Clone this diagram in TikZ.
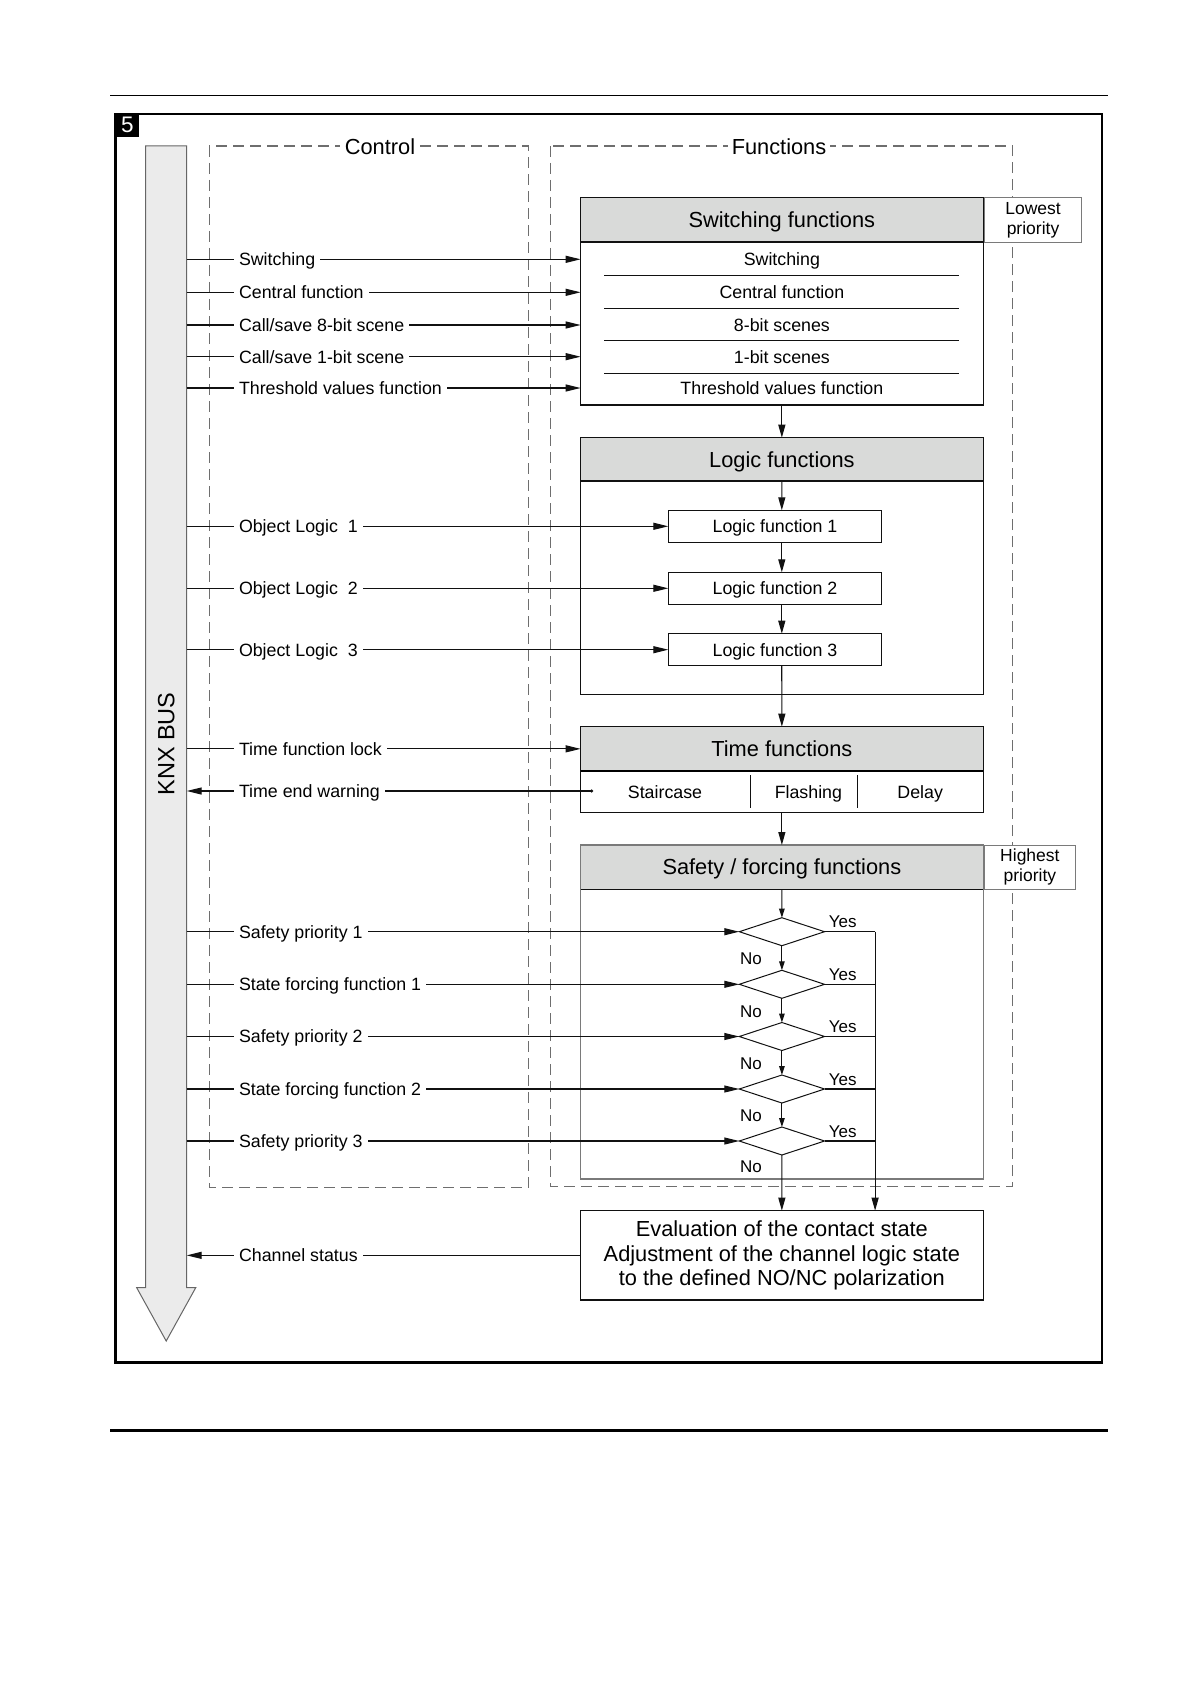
\documentclass[tikz,border=0pt]{standalone}
\usepackage{fontspec}
\setmainfont{Liberation Sans}
\usetikzlibrary{arrows.meta,shapes.geometric}
\definecolor{hdrgray}{HTML}{D9DAD9}
\definecolor{busgray}{HTML}{EBEBEB}
\definecolor{dashgray}{HTML}{6E6E6E}
\definecolor{boxgray}{HTML}{7A7A7A}
\definecolor{linec}{HTML}{111111}
\begin{document}
\begin{tikzpicture}[x=1pt,y=-1pt,line width=1.15pt,
  every node/.style={outer sep=0pt},
  fs/.style={font=\fontsize{17.8}{20}\selectfont, text height=12.7pt, text depth=0pt},
  fb/.style={font=\fontsize{21.8}{24.5}\selectfont, text height=15.6pt, text depth=0pt},
  lbl/.style={fs, fill=white, inner xsep=5pt, inner ysep=3pt, anchor=west},
  box/.style={draw=linec, minimum width=402.5pt, anchor=north west, inner sep=0pt},
  hdr/.style={draw=linec, fill=hdrgray, fb, minimum width=402.5pt, minimum height=44.3pt, anchor=north west, inner sep=0pt},
  item/.style={fs, minimum width=402.5pt, inner sep=0pt},
  lfbox/.style={draw=linec, fs, minimum width=213.4pt, minimum height=32pt, inner sep=0pt},
  arr/.style={draw=linec, -{Triangle[length=15pt,width=7pt]}},
  varr/.style={draw=linec, -{Triangle[length=13pt,width=7pt]}},
  sarr/.style={draw=linec, -{Triangle[length=9pt,width=5.5pt]}},
  dashbox/.style={draw=dashgray, line width=1.1pt, dash pattern=on 11pt off 6pt},
  dec/.style={draw=linec, diamond, line width=1pt, minimum width=85.3pt, minimum height=28pt, inner sep=0pt},
  prio/.style={draw=boxgray, fill=white, line width=1pt, font=\fontsize{17.5}{20}\selectfont, align=center, inner sep=0pt, anchor=north west},
  yn/.style={font=\fontsize{17}{20}\selectfont, text height=12.2pt, text depth=0pt, inner sep=0pt},
  sep/.style={draw=linec, line width=1pt}
]
\useasboundingbox (0,0) rectangle (1191,1685);
\fill[white] (0,0) rectangle (1191,1685);
% page rules
\draw[line width=1.5pt] (110,95.7) -- (1108,95.7);
\draw[line width=3pt] (110,1430.7) -- (1108,1430.7);
% frame
\node[draw=black, line width=2.5pt, minimum width=986.1pt, minimum height=1248.3pt, anchor=north west] (frame) at (115.7,114) {};
\node[fill=black, text=white, minimum width=23.3pt, minimum height=22.7pt, anchor=north west, inner sep=0pt, font=\fontsize{22.5}{22.5}\selectfont] (fig) at (115.7,114) {5};
% bus
\draw[draw=black!60, fill=busgray, line width=1pt] (145.7,146) -- (186.7,146) -- (186.7,1287.7) -- (195.7,1287.7) -- (166.2,1341) -- (136.7,1287.7) -- (145.7,1287.7) -- cycle;
\node[rotate=90, font=\fontsize{23.5}{23.5}\selectfont] (knx) at (166.2,744) {KNX BUS};
\coordinate (busE) at (186.7,744);
% dashed regions
\draw[dashbox] (209.3,146) rectangle (528.3,1187.3);
\draw[dashbox] (550.7,146) rectangle (1012.4,1186.7);
\node[fill=white, fb, inner xsep=5pt, inner ysep=1pt] (ctl) at (380,147) {Control};
\node[fill=white, fb, inner xsep=4pt, inner ysep=1pt] (fun) at (779,147) {Functions};
% switching functions
\node[box, minimum height=207.3pt] (swbox) at (580.6,197.7) {};
\node[hdr] (swh) at (580.6,197.7) {Switching functions};
\node[item] (s1) at (781.9,259.3) {Switching};
\node[item] (s2) at (781.9,292.3) {Central function};
\node[item] (s3) at (781.9,325) {8-bit scenes};
\node[item] (s4) at (781.9,356.7) {1-bit scenes};
\node[item] (s5) at (781.9,388) {Threshold values function};
\draw[sep] (604,275.3) -- (959,275.3);
\draw[sep] (604,308.3) -- (959,308.3);
\draw[sep] (604,340.3) -- (959,340.3);
\draw[sep] (604,373.3) -- (959,373.3);
\node[prio, minimum width=96.4pt, minimum height=44.6pt] (low) at (984.8,197.7) {Lowest\\priority};
% logic functions
\node[box, minimum height=256.6pt] (lgbox) at (580.6,437.7) {};
\node[hdr, minimum height=43.3pt] (lgh) at (580.6,437.7) {Logic functions};
\node[lfbox] (lf1) at (775,526.3) {Logic function 1};
\node[lfbox] (lf2) at (775,588.3) {Logic function 2};
\node[lfbox] (lf3) at (775,649.7) {Logic function 3};
% time functions
\node[box, minimum height=85.6pt] (tmbox) at (580.6,726.7) {};
\node[hdr, minimum height=44.3pt] (tmh) at (580.6,726.7) {Time functions};
\draw[line width=2.2pt] (tmh.south west) -- (tmh.south east);
\node[fs, inner sep=0pt] (stair) at (665,791.7) {Staircase};
\node[fs, inner sep=0pt] (flash) at (808.4,791.7) {Flashing};
\node[fs, inner sep=0pt] (delay) at (920.2,791.7) {Delay};
\draw[sep] (750.2,775) -- (750.2,807.7);
\draw[sep] (857.9,775) -- (857.9,807.7);
\coordinate (tew) at (591.6,791);
\fill[linec] (tew) circle (1.7pt);
% safety / forcing
\node[box, draw=boxgray, minimum height=334pt] (sfbox) at (580.6,845) {};
\node[hdr, draw=boxgray, minimum height=44.3pt] (sfh) at (580.6,845) {Safety / forcing functions};
\draw[linec] (sfh.south west) -- (sfh.south east);
\node[prio, minimum width=90.2pt, minimum height=44.3pt] (high) at (984.8,845) {Highest\\priority};
\node[dec] (d1) at (781.9,931.7) {};
\node[dec] (d2) at (781.9,984.3) {};
\node[dec] (d3) at (781.9,1036.5) {};
\node[dec] (d4) at (781.9,1089) {};
\node[dec] (d5) at (781.9,1141) {};
\node[yn] (y1) at (842.8,921.7) {Yes};
\node[yn] (y2) at (842.8,974.3) {Yes};
\node[yn] (y3) at (842.8,1026.5) {Yes};
\node[yn] (y4) at (842.8,1079) {Yes};
\node[yn] (y5) at (842.8,1131) {Yes};
\node[yn] (n1) at (751,958.3) {No};
\node[yn] (n2) at (751,1010.9) {No};
\node[yn] (n3) at (751,1063.1) {No};
\node[yn] (n4) at (751,1115.6) {No};
\node[yn] (n5) at (751,1166.5) {No};
% evaluation
\node[draw=linec, minimum width=402.5pt, minimum height=89.3pt, anchor=north west, align=center, font=\fontsize{21.8}{24.5}\selectfont, inner sep=0pt] (eval) at (580.6,1210.7) {Evaluation of the contact state\\Adjustment of the channel logic state\\to the defined NO/NC polarization};
% vertical flow
\coordinate (ax) at (781.8,0);
\draw[varr] (swbox.south) -- (lgh.north);
\draw[varr] (lgh.south) -- (lf1.north -| ax);
\draw[varr] (lf1.south -| ax) -- (lf2.north -| ax);
\draw[varr] (lf2.south -| ax) -- (lf3.north -| ax);
\draw[varr] (lf3.south -| ax) -- (tmh.north);
\draw[varr] (tmbox.south) -- (sfh.north);
\draw[sarr] (sfh.south) -- (d1.north);
\draw[sarr] (d1.south) -- (d2.north);
\draw[sarr] (d2.south) -- (d3.north);
\draw[sarr] (d3.south) -- (d4.north);
\draw[sarr] (d4.south) -- (d5.north);
\draw[varr] (d5.south) -- (eval.north);
\coordinate (yx) at (875.1,931.7);
\draw[linec] (d1.east) -- (yx);
\draw[linec] (d2.east) -- (d2.east -| yx);
\draw[linec] (d3.east) -- (d3.east -| yx);
\draw[linec] (d4.east) -- (d4.east -| yx);
\draw[linec] (d5.east) -- (d5.east -| yx);
\draw[varr] (yx) -- (yx |- eval.north);
% connectors from / to the bus
\draw[arr] (busE |- s1) -- (s1.west);
\draw[arr] (busE |- s2) -- (s2.west);
\draw[arr] (busE |- s3) -- (s3.west);
\draw[arr] (busE |- s4) -- (s4.west);
\draw[arr] (busE |- s5) -- (s5.west);
\draw[arr] (busE |- lf1) -- (lf1.west);
\draw[arr] (busE |- lf2) -- (lf2.west);
\draw[arr] (busE |- lf3) -- (lf3.west);
\draw[arr] (busE |- tmh.west) -- (tmh.west);
\draw[arr] (tew) -- (busE |- tew);
\draw[arr] (busE |- d1) -- (d1.west);
\draw[arr] (busE |- d2) -- (d2.west);
\draw[arr] (busE |- d3) -- (d3.west);
\draw[arr] (busE |- d4) -- (d4.west);
\draw[arr] (busE |- d5) -- (d5.west);
\draw[arr] (eval.west) -- (busE |- eval.west);
% connector labels
\node[lbl] (c1) at (234,259.3) {Switching};
\node[lbl] (c2) at (234,292.3) {Central function};
\node[lbl] (c3) at (234,325) {Call/save 8-bit scene};
\node[lbl] (c4) at (234,356.7) {Call/save 1-bit scene};
\node[lbl] (c5) at (234,388) {Threshold values function};
\node[lbl] (o1) at (234,526.3) {Object Logic\ \ 1};
\node[lbl] (o2) at (234,588.3) {Object Logic\ \ 2};
\node[lbl] (o3) at (234,649.7) {Object Logic\ \ 3};
\node[lbl] (t1) at (234,748.85) {Time function lock};
\node[lbl] (t2) at (234,791) {Time end warning};
\node[lbl] (p1) at (234,931.7) {Safety priority 1};
\node[lbl] (p2) at (234,984.3) {State forcing function 1};
\node[lbl] (p3) at (234,1036.5) {Safety priority 2};
\node[lbl] (p4) at (234,1089) {State forcing function 2};
\node[lbl] (p5) at (234,1141) {Safety priority 3};
\node[lbl] (ch) at (234,1255.35) {Channel status};
\end{tikzpicture}
\end{document}
